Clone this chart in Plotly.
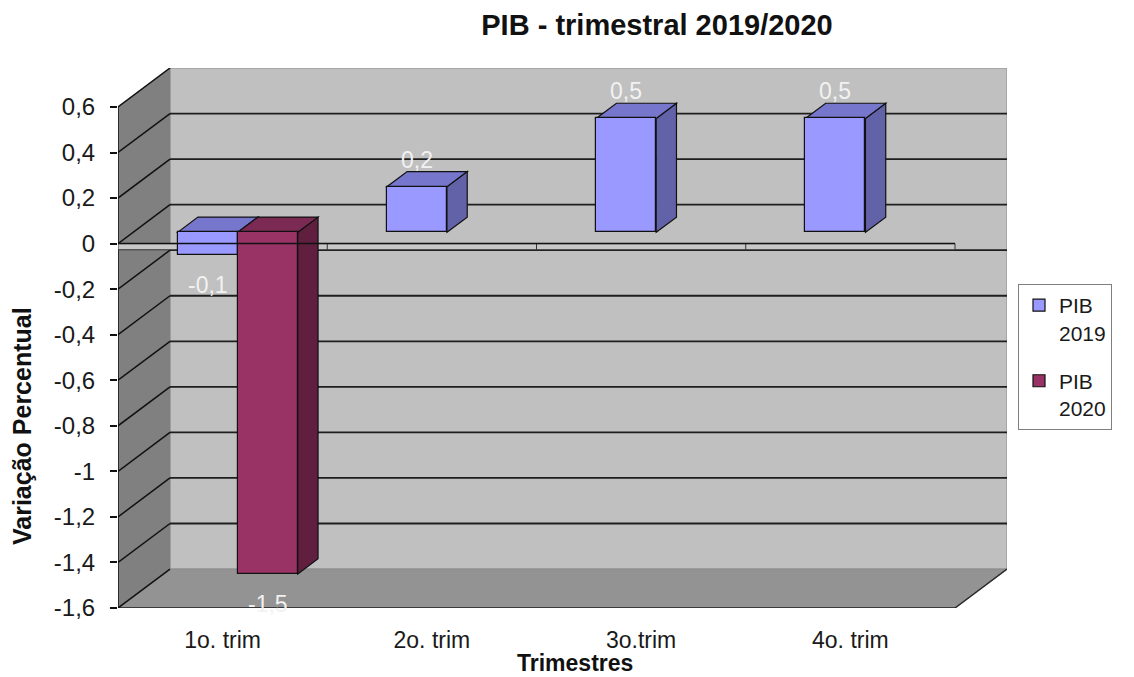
import plotly.graph_objects as go

# --- data -------------------------------------------------------------
categories = ["1o. trim", "2o. trim", "3o.trim", "4o. trim"]
pib_2019 = [-0.1, 0.2, 0.5, 0.5]
pib_2020 = [-1.5, None, None, None]
series_names = ["PIB<br>2019", "PIB<br>2020"]
y_ticks = [-1.6, -1.4, -1.2, -1.0, -0.8, -0.6, -0.4, -0.2, 0.0, 0.2, 0.4, 0.6]
y_tick_labels = ["-1,6", "-1,4", "-1,2", "-1", "-0,8", "-0,6", "-0,4", "-0,2",
                 "0", "0,2", "0,4", "0,6"]

# --- styling / pseudo-3D geometry --------------------------------------
FONT = "Liberation Sans, Arial, sans-serif"
FRONT = ["#9999FF", "#993366"]
TOP = ["#7676CC", "#7B2A54"]
SIDE = ["#6262A8", "#611F40"]
N = len(categories)
Y_MIN, Y_MAX = y_ticks[0], y_ticks[-1]
DX, DY = 0.2485, 0.171      # projection of the full chart depth (x in categories, y in value units)
F0, F1 = 0.29, 0.68         # depth slice taken by the columns
BW = 0.287                  # column width, in category units
STRIP = 0.027               # thickness of the slab drawn at the value axis zero

fig = go.Figure()
shapes = []


def poly(pts, fill, line="#111111", width=1.2, layer="below"):
    path = "M " + " L ".join(f"{x},{y}" for x, y in pts) + " Z"
    return dict(type="path", path=path, xref="x", yref="y", fillcolor=fill,
                line=dict(color=line, width=width), layer=layer)


def seg(x0, y0, x1, y1, color="#111111", width=1.5, layer="below"):
    return dict(type="line", x0=x0, y0=y0, x1=x1, y1=y1, xref="x", yref="y",
                line=dict(color=color, width=width), layer=layer)


# walls and floor
shapes.append(dict(type="rect", x0=DX, x1=N + DX, y0=Y_MIN + DY, y1=Y_MAX + DY,
                   xref="x", yref="y", fillcolor="#C0C0C0",
                   line=dict(color="#8E8E8E", width=1), layer="below"))
shapes.append(poly([(0, Y_MIN), (DX, Y_MIN + DY), (DX, Y_MAX + DY), (0, Y_MAX)],
                   "#808080", line="#808080", width=0.5))
shapes.append(poly([(0, Y_MIN), (N, Y_MIN), (N + DX, Y_MIN + DY), (DX, Y_MIN + DY)],
                   "#939393", line="#8A8A8A", width=0.8))
shapes.append(seg(0, Y_MIN, N, Y_MIN, color="#3A3A3A", width=2))
shapes.append(seg(N, Y_MIN, N + DX, Y_MIN + DY, color="#2A2A2A", width=1.5))

# gridlines on the back wall and their continuation across the side wall
for v in y_ticks[1:-1]:
    shapes.append(seg(DX, v + DY, N + DX, v + DY, color="#1E1E1E", width=1.8))
for v in y_ticks:
    shapes.append(seg(0, v, DX, v + DY, color="#111111", width=1.5))
shapes.append(seg(0, Y_MIN, 0, Y_MAX, color="#111111", width=1.5))

# thin slab marking the category axis at zero
shapes.append(dict(type="rect", x0=0, x1=N, y0=-STRIP, y1=0, xref="x", yref="y",
                   fillcolor="#C8C8C8", line=dict(color="#333333", width=1), layer="below"))
for k in range(1, N):
    shapes.append(seg(k, 0, k, -STRIP, color="#333333", width=1))

# column faces (front faces are the bar traces, top and side faces are shapes)
base = F0 * DY
ddx, ddy = (F1 - F0) * DX, (F1 - F0) * DY
annotations = []
for i in range(N):
    for s, values in enumerate([pib_2019, pib_2020]):
        v = values[i]
        if v is None:
            continue
        a = i + 0.5 + F0 * DX + (s - 1) * BW
        b = a + BW
        lo, hi = min(base, base + v), max(base, base + v)
        shapes.append(poly([(b, lo), (b, hi), (b + ddx, hi + ddy), (b + ddx, lo + ddy)], SIDE[s]))
        shapes.append(poly([(a, hi), (b, hi), (b + ddx, hi + ddy), (a + ddx, hi + ddy)], TOP[s]))
        annotations.append(dict(
            x=(a + b) / 2, y=base + v, xref="x", yref="y",
            text=f"{v:.1f}".replace(".", ","), showarrow=False,
            yshift=27 if v >= 0 else -30,
            font=dict(family=FONT, size=23, color="#F2F2F2")))

for s, values in enumerate([pib_2019, pib_2020]):
    xs = [i + 0.5 + F0 * DX + (s - 0.5) * BW for i in range(N)]
    fig.add_trace(go.Bar(
        x=xs, y=values, base=base, width=BW, name=series_names[s],
        legendgroup=f"g{s}",
        marker=dict(color=FRONT[s], line=dict(color="#111111", width=1.2)),
        hoverinfo="skip"))

# zero line runs across the columns
shapes.append(seg(0, 0, N, 0, color="#111111", width=1.5, layer="above"))

# axis titles
annotations.append(dict(text="<b>Variação Percentual</b>", textangle=-90,
                        x=(22 - 118) / 889, y=(608 - 426) / 540, xref="paper", yref="paper",
                        showarrow=False, xanchor="center", yanchor="middle",
                        font=dict(family=FONT, size=25, color="#111111")))
annotations.append(dict(text="<b>Trimestres</b>",
                        x=(575 - 118) / 889, y=(608 - 663) / 540, xref="paper", yref="paper",
                        showarrow=False, xanchor="center", yanchor="middle",
                        font=dict(family=FONT, size=23, color="#111111")))

fig.update_layout(
    width=1134, height=677,
    margin=dict(l=118, r=127, t=68, b=69, autoexpand=False),
    paper_bgcolor="white", plot_bgcolor="white",
    barmode="overlay", bargap=0,
    shapes=shapes, annotations=annotations,
    font=dict(family=FONT, color="#1A1A1A"),
    title=dict(text="<b>PIB - trimestral 2019/2020</b>", xref="container", yref="container",
               x=657 / 1134, y=1 - 25 / 677, xanchor="center", yanchor="middle",
               font=dict(family=FONT, size=29, color="#111111")),
    xaxis=dict(range=[0, N + DX], tickvals=[i + 0.5 for i in range(N)], ticktext=categories,
               showgrid=False, zeroline=False, showline=False, ticks="",
               ticklabelstandoff=16, tickfont=dict(family=FONT, size=23, color="#1A1A1A"),
               fixedrange=True),
    yaxis=dict(range=[Y_MIN, Y_MAX + DY], tickvals=y_ticks, ticktext=y_tick_labels,
               showgrid=False, zeroline=False, showline=False,
               ticks="outside", ticklen=7, tickwidth=1.5, tickcolor="#111111",
               ticklabelstandoff=10, tickfont=dict(family=FONT, size=24, color="#1A1A1A"),
               fixedrange=True),
    legend=dict(x=(1018 - 118) / 889, y=(608 - 284) / 540, xanchor="left", yanchor="top",
                bgcolor="white", bordercolor="#7F7F7F", borderwidth=1,
                font=dict(family=FONT, size=21, color="#1A1A1A"), valign="top",
                traceorder="grouped", tracegroupgap=18),
    showlegend=True,
)

fig.write_html("out.html")
